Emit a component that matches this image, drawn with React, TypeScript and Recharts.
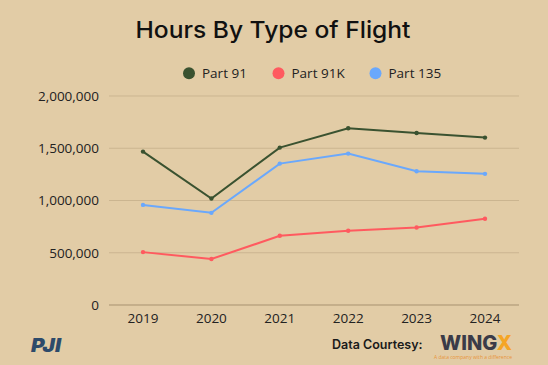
import React from "react";
import { LineChart, Line, XAxis, YAxis, CartesianGrid } from "recharts";

const years = ["2019", "2020", "2021", "2022", "2023", "2024"];
const part91 = [1468000, 1019000, 1506000, 1691000, 1646000, 1602000];
const part91K = [506000, 440000, 662000, 710000, 741000, 825000];
const part135 = [958000, 882000, 1353000, 1449000, 1280000, 1255000];
const yTicks = [0, 500000, 1000000, 1500000, 2000000];

const seriesNames = ["Part 91", "Part 91K", "Part 135"];
const seriesColors = ["#3a5230", "#ff5a5f", "#6aa8fc"];

const data = years.map((y, i) => ({
  year: y,
  p91: part91[i],
  p91k: part91K[i],
  p135: part135[i],
}));

const fmt = (v: number) => v.toLocaleString("en-US");
const font = "'Open Sans', 'Noto Sans', sans-serif";

export default function App() {
  return (
    <div
      style={{
        position: "fixed",
        left: 0,
        top: 0,
        width: 548,
        height: 365,
        background: "#e2cca6",
        overflow: "hidden",
        fontFamily: font,
      }}
    >
      <svg width={548} height={365} style={{ position: "absolute", left: 0, top: 0 }}>
        <text
          x={273}
          y={38}
          textAnchor="middle"
          fontSize={23}
          fontWeight={500}
          fill="#111"
          fontFamily="'Inter', sans-serif"
          textLength={275}
          lengthAdjust="spacingAndGlyphs"
        >
          Hours By Type of Flight
        </text>
        {seriesNames.map((n, i) => {
          const cx = [189, 278.5, 375.5][i];
          return (
            <g key={n}>
              <circle cx={cx} cy={73.3} r={6} fill={seriesColors[i]} />
              <text x={cx + 13} y={78} fontSize={13.5} fill="#222" fontFamily={font}>
                {n}
              </text>
            </g>
          );
        })}
        <text x={332} y={349} fontSize={12.5} fontWeight={600} fill="#1a1a1a" fontFamily="'Inter', sans-serif">
          Data Courtesy:
        </text>
        <text x={440} y={349.5} fontSize={20} fontWeight={800} fill="#3b3b48" fontFamily="'Inter', sans-serif">
          WING
        </text>
        <text x={512} y={349.5} textAnchor="end" fontSize={20} fontWeight={800} fill="#f5a524" fontFamily="'Inter', sans-serif">
          X
        </text>
        <text x={473} y={359} textAnchor="middle" fontSize={5} fill="#e8943a" fontFamily={font}>
          A data company with a difference
        </text>
        <text x={31} y={352} fontSize={19} fontWeight={900} fontStyle="italic" fill="#2d4a6a" fontFamily="'Inter', sans-serif" textLength={30} lengthAdjust="spacingAndGlyphs">
          PJI
        </text>
      </svg>
      <div style={{ position: "absolute", left: 0, top: 0 }}>
        <LineChart
          width={548}
          height={365}
          data={data}
          margin={{ top: 96, right: 29, bottom: 30, left: 0 }}
        >
          <CartesianGrid vertical={false} stroke="#cbb590" strokeWidth={1} />
          <XAxis
            dataKey="year"
            height={30}
            padding={{ left: 34, right: 34 }}
            axisLine={{ stroke: "#b39d7a" }}
            tickLine={false}
            tick={{ fill: "#222", fontSize: 13.5, fontFamily: font }}
            interval={0}
          />
          <YAxis
            width={109}
            domain={[0, 2000000]}
            ticks={yTicks}
            tickFormatter={fmt}
            axisLine={false}
            tickLine={false}
            tickSize={0}
            tickMargin={10}
            tick={{ fill: "#222", fontSize: 13.5, fontFamily: font }}
          />
          <Line dataKey="p91" name="Part 91" stroke={seriesColors[0]} strokeWidth={2} dot={{ r: 2.2, fill: seriesColors[0], strokeWidth: 0 }} isAnimationActive={false} />
          <Line dataKey="p91k" name="Part 91K" stroke={seriesColors[1]} strokeWidth={2} dot={{ r: 2.2, fill: seriesColors[1], strokeWidth: 0 }} isAnimationActive={false} />
          <Line dataKey="p135" name="Part 135" stroke={seriesColors[2]} strokeWidth={2} dot={{ r: 2.2, fill: seriesColors[2], strokeWidth: 0 }} isAnimationActive={false} />
        </LineChart>
      </div>
    </div>
  );
}
